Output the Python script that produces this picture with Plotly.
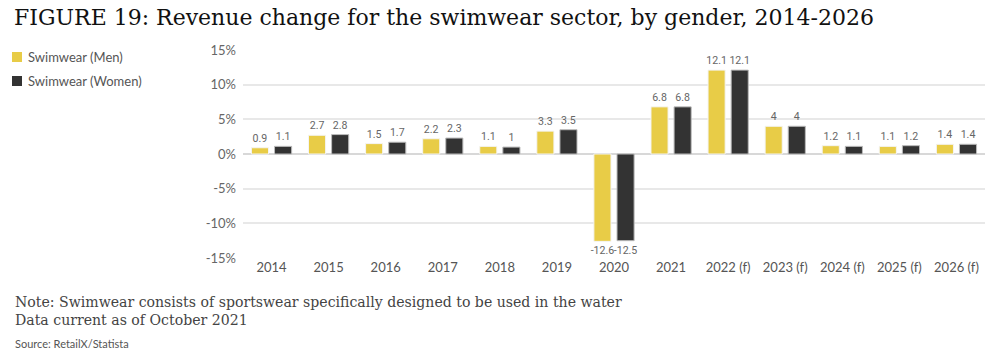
import plotly.graph_objects as go

categories = ["2014", "2015", "2016", "2017", "2018", "2019", "2020", "2021",
              "2022 (f)", "2023 (f)", "2024 (f)", "2025 (f)", "2026 (f)"]
men = [0.9, 2.7, 1.5, 2.2, 1.1, 3.3, -12.6, 6.8, 12.1, 4, 1.2, 1.1, 1.4]
women = [1.1, 2.8, 1.7, 2.3, 1, 3.5, -12.5, 6.8, 12.1, 4, 1.1, 1.2, 1.4]
tick_vals = [-15, -10, -5, 0, 5, 10, 15]
tick_text = [f"{v}%" for v in tick_vals]
series_names = ["Swimwear (Men)", "Swimwear (Women)"]
series_colors = ["#E8CC47", "#333333"]

W, H = 1004, 356
L, R, T, B = 243, 985, 50, 258

fig = go.Figure()
for name, vals, col, lc in zip(series_names, [men, women], series_colors, ["#f4f4f4", "#bbbbbb"]):
    fig.add_trace(go.Bar(x=categories, y=vals, name=name,
                         marker=dict(color=col, line=dict(color=lc, width=1)),
                         text=[f"{v:g}" for v in vals], textposition="outside",
                         textangle=0, constraintext="none",
                         textfont=dict(family="Roboto", size=10.6, color="#666666"),
                         cliponaxis=False))

fig.update_layout(
    width=W, height=H,
    margin=dict(l=L, r=W - R, t=T, b=H - B, autoexpand=False),
    paper_bgcolor="white", plot_bgcolor="white",
    barmode="group", bargap=0.19, bargroupgap=0.26,
    font=dict(family="Lato", color="#666666", size=13),
    title=dict(text="FIGURE 19: Revenue change for the swimwear sector, by gender, 2014-2026",
               x=14 / W, xanchor="left", y=1 - 17 / H, yanchor="middle",
               font=dict(family="DejaVu Serif", size=22, color="#111111")),
    showlegend=False,
)
fig.update_xaxes(showgrid=False, showline=False, ticks="", automargin=False,
                 tickfont=dict(family="Lato", size=13, color="#555555"))
fig.update_yaxes(range=[-15, 15], tickvals=tick_vals, ticktext=tick_text,
                 showgrid=True, gridcolor="#e8e8e8", gridwidth=1.5, automargin=False,
                 zeroline=True, zerolinecolor="#d8d8d8", zerolinewidth=2,
                 tickfont=dict(family="Lato", size=13, color="#666666"),
                 ticklabelstandoff=6)

# legend drawn as text entries
for i, (name, col) in enumerate(zip(series_names, series_colors)):
    yy = 57 + 24 * i
    fig.add_shape(type="rect", xref="paper", yref="paper",
                  x0=(12 - L) / (R - L), x1=(22 - L) / (R - L),
                  y0=1 - (yy + 5 - T) / (B - T), y1=1 - (yy - 5 - T) / (B - T),
                  fillcolor=col, line=dict(width=0))
    fig.add_annotation(text=name, xref="paper", yref="paper",
                       x=(26 - L) / (R - L), y=1 - (yy - T) / (B - T),
                       xanchor="left", yanchor="middle", showarrow=False,
                       font=dict(family="Lato", size=13, color="#555555"))

fig.add_annotation(text="Note: Swimwear consists of sportswear specifically designed to be used in the water<br>Data current as of October 2021",
                   xref="paper", yref="paper", x=(13 - L) / (R - L), y=1 - (292 - T) / (B - T),
                   xanchor="left", yanchor="top", align="left", showarrow=False,
                   font=dict(family="DejaVu Serif", size=14.1, color="#444444"))
fig.add_annotation(text="Source: RetailX/Statista",
                   xref="paper", yref="paper", x=(13 - L) / (R - L), y=1 - (335 - T) / (B - T),
                   xanchor="left", yanchor="top", align="left", showarrow=False,
                   font=dict(family="Lato", size=11, color="#555555"))

fig.write_html("out.html", config={"displayModeBar": False},
               post_script="document.body.style.margin='0';")
